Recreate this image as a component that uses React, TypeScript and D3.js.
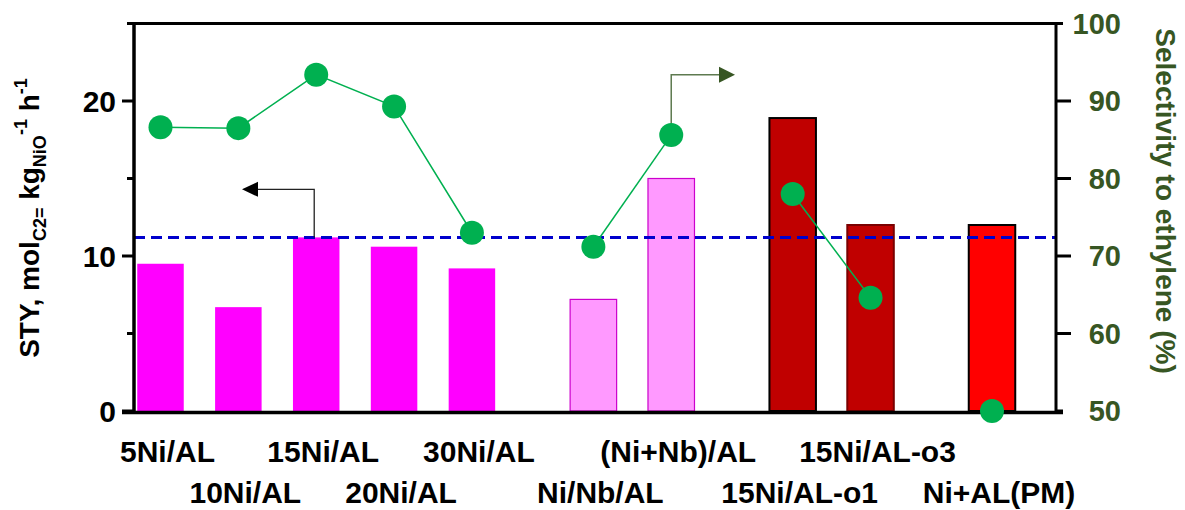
import React from "react";
import * as d3 from "d3";

const categories = ["5Ni/AL", "10Ni/AL", "15Ni/AL", "20Ni/AL", "30Ni/AL", "Ni/Nb/AL", "(Ni+Nb)/AL", "15Ni/AL-o1", "15Ni/AL-o3", "Ni+AL(PM)"];
const groups = [0, 0, 0, 0, 0, 1, 1, 2, 2, 3];
const styValues = [9.5, 6.7, 11.2, 10.6, 9.2, 7.2, 15.0, 18.9, 12.0, 12.0];
const selectivity = [86.6, 86.5, 93.4, 89.3, 73.0, 71.2, 85.6, 78.0, 64.6, 50.0];
const leftMajorTicks = [0, 10, 20];
const leftMinorTicks = [5, 15, 25];
const rightTicks = [50, 60, 70, 80, 90, 100];
const referenceSTY = 11.2;

const barFill = ["#FF00FF", "#FF00FF", "#FF00FF", "#FF00FF", "#FF00FF", "#FF99FF", "#FF99FF", "#C00000", "#C00000", "#FF0000"];
const barStroke = ["none", "none", "none", "none", "none", "#CC00CC", "#CC00CC", "#000000", "#7A0000", "#000000"];
const labelRow = [0, 1, 0, 1, 0, 1, 0, 1, 0, 1];

const FONT = "'Liberation Sans', Arial, Helvetica, sans-serif";
const GREEN = "#00B050";
const OLIVE = "#375623";

export default function App() {
  const W = 1185, H = 510;
  const left = 134, right = 1056, top = 23.5, bottom = 411;
  const gap = 0.56;
  const slots = categories.map((_, i) => i + groups[i] * gap);
  const x = d3.scaleLinear().domain([0, d3.max(slots) as number]).range([160.5, 992]);
  const yL = d3.scaleLinear().domain([0, 25]).range([bottom, top]);
  const yR = d3.scaleLinear().domain([50, 100]).range([bottom, top]);
  const bw = 46.5;

  const lineGen = d3.line<number>().x((i) => x(slots[i])).y((i) => yR(selectivity[i]));
  const segs: number[][] = [];
  d3.groups(d3.range(categories.length), (i) => groups[i]).forEach(([, idx]) => { if (idx.length > 1) segs.push(idx); });

  const la = { x0: x(slots[2]) - 2, y0: yL(referenceSTY), y1: yL(14.3), tip: 242 };
  const ra = { x0: x(slots[6]), y0: yR(selectivity[6]), y1: yR(93.4), tip: 735 };

  return (
    <svg width={W} height={H} style={{ position: "absolute", left: 0, top: 0, background: "#fff" }} fontFamily={FONT}>
      {categories.map((c, i) => (
        <rect key={c} x={x(slots[i]) - bw / 2} y={yL(styValues[i])} width={bw} height={bottom - yL(styValues[i])}
          fill={barFill[i]} stroke={barStroke[i]} strokeWidth={i >= 7 ? 2 : 1.2} />
      ))}
      <line x1={left} x2={right} y1={yL(referenceSTY)} y2={yL(referenceSTY)} stroke="#0000CC" strokeWidth={3} strokeDasharray="11 6" />
      <line x1={127} x2={1063} y1={top} y2={top} stroke="#000" strokeWidth={3} />
      <line x1={left} x2={left} y1={top - 1.5} y2={bottom + 3} stroke="#000" strokeWidth={3.5} />
      <line x1={right} x2={right} y1={top - 1.5} y2={bottom + 3} stroke="#000" strokeWidth={3} />
      <line x1={122} x2={1063} y1={bottom + 1.5} y2={bottom + 1.5} stroke="#000" strokeWidth={3.5} />
      {leftMajorTicks.map((t) => (
        <g key={t}>
          <line x1={122} x2={left} y1={yL(t)} y2={yL(t)} stroke="#000" strokeWidth={3} />
          <text x={116} y={yL(t)} dy="0.36em" textAnchor="end" fontSize={30} fontWeight="bold">{t}</text>
        </g>
      ))}
      {leftMinorTicks.map((t) => (
        <line key={t} x1={127} x2={left} y1={yL(t)} y2={yL(t)} stroke="#000" strokeWidth={3} />
      ))}
      {rightTicks.map((t) => (
        <g key={t}>
          <line x1={right} x2={t === 50 || t === 100 ? 1063 : 1071} y1={yR(t)} y2={yR(t)} stroke="#000" strokeWidth={3} />
          <text x={1121} y={yR(t)} dy="0.36em" textAnchor="end" fontSize={29} fontWeight="bold" fill={OLIVE}>{t}</text>
        </g>
      ))}
      {segs.map((s, k) => (
        <path key={k} d={lineGen(s) as string} fill="none" stroke={GREEN} strokeWidth={1.5} />
      ))}
      <path d={`M${la.x0},${la.y0}V${la.y1}H${la.tip + 14}`} fill="none" stroke="#222" strokeWidth={1.3} />
      <path d={`M${la.tip},${la.y1}L${la.tip + 16},${la.y1 - 7.5}L${la.tip + 16},${la.y1 + 7.5}Z`} fill="#000" />
      <path d={`M${ra.x0},${ra.y0}V${ra.y1}H${ra.tip - 14}`} fill="none" stroke="#5E7A50" strokeWidth={1.5} />
      <path d={`M${ra.tip},${ra.y1}L${ra.tip - 16},${ra.y1 - 8}L${ra.tip - 16},${ra.y1 + 8}Z`} fill={OLIVE} />
      {selectivity.map((v, i) => (
        <circle key={i} cx={x(slots[i])} cy={yR(v)} r={12} fill={GREEN} />
      ))}
      {categories.map((c, i) => (
        <text key={c} x={x(slots[i]) + 7} y={labelRow[i] === 0 ? 462 : 503} textAnchor="middle" fontSize={30} fontWeight="bold">{c}</text>
      ))}
      <text transform="translate(39,218) rotate(-90)" textAnchor="middle" fontSize={28} fontWeight="bold">
        STY, mol<tspan fontSize={18} dy={7}>C2=</tspan><tspan dy={-7}> kg</tspan><tspan fontSize={18} dy={7}>NiO</tspan>
        <tspan fontSize={18} dy={-19}>-1</tspan><tspan dy={12}> h</tspan><tspan fontSize={18} dy={-12}>-1</tspan>
      </text>
      <text transform="translate(1156,201) rotate(90)" textAnchor="middle" fontSize={28} fontWeight="bold" fill={OLIVE}>
        Selectivity to ethylene (%)
      </text>
    </svg>
  );
}
